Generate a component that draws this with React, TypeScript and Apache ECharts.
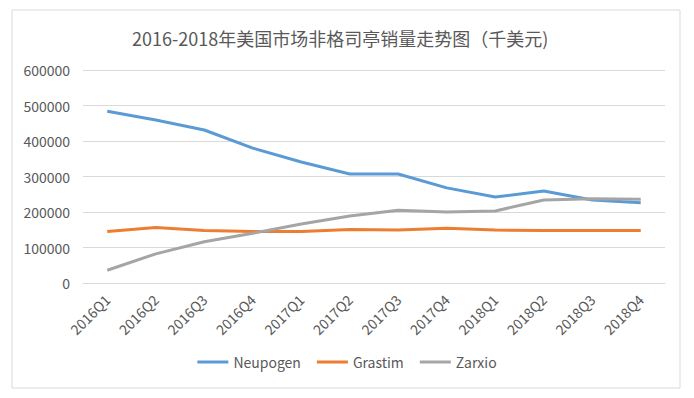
import React, { useEffect, useRef } from "react";
import * as echarts from "echarts";

const categories = ["2016Q1","2016Q2","2016Q3","2016Q4","2017Q1","2017Q2","2017Q3","2017Q4","2018Q1","2018Q2","2018Q3","2018Q4"];
const neupogen = [484000, 459000, 431000, 380000, 341000, 307000, 307000, 268000, 242000, 259000, 234000, 226000];
const grastim = [145000, 156000, 148000, 145000, 145000, 151000, 149000, 154000, 149000, 148000, 148000, 148000];
const zarxio = [36000, 82000, 116000, 140000, 166000, 189000, 205000, 200000, 203000, 234000, 237000, 236000];
const yTicks = [0, 100000, 200000, 300000, 400000, 500000, 600000];

export default function App() {
  const ref = useRef<HTMLDivElement>(null);
  useEffect(() => {
    document.body.style.margin = "0";
    const chart = echarts.init(ref.current!, null, { renderer: "svg" });
    const font = "'Noto Sans CJK SC', 'Noto Sans', sans-serif";
    chart.setOption({
      animation: false,
      backgroundColor: "#ffffff",
      title: {
        text: "2016-2018年美国市场非格司亭销量走势图（千美元)",
        left: 127,
        top: 24,
        textStyle: { fontSize: 18, fontWeight: "normal", color: "#595959", fontFamily: font },
      },
      graphic: [
        {
          type: "rect",
          shape: { x: 12, y: 10, width: 668, height: 378 },
          style: { fill: "none", stroke: "#d9d9d9", lineWidth: 1 },
          silent: true,
        },
      ],
      legend: {
        bottom: 24,
        left: "center",
        icon: "rect",
        itemWidth: 31,
        itemHeight: 3,
        itemGap: 16,
        textStyle: { fontSize: 14, color: "#595959", fontFamily: font },
        data: ["Neupogen", "Grastim", "Zarxio"],
      },
      grid: { left: 83, right: 29, top: 70, bottom: 115 },
      xAxis: {
        type: "category",
        data: categories,
        axisLine: { lineStyle: { color: "#d9d9d9" } },
        axisTick: { show: false },
        axisLabel: { rotate: 45, margin: 14, fontSize: 14, color: "#595959", fontFamily: font },
      },
      yAxis: {
        type: "value",
        min: yTicks[0],
        max: yTicks[yTicks.length - 1],
        interval: 100000,
        axisLine: { show: false },
        axisTick: { show: false },
        splitLine: { lineStyle: { color: "#d9d9d9" } },
        axisLabel: { margin: 13, fontSize: 14, color: "#595959", fontFamily: font, formatter: (v: number) => String(v) },
      },
      series: [
        { name: "Neupogen", type: "line", data: neupogen, showSymbol: false, symbol: "none", lineStyle: { width: 3, color: "#5B9BD5" }, itemStyle: { color: "#5B9BD5" } },
        { name: "Grastim", type: "line", data: grastim, showSymbol: false, symbol: "none", lineStyle: { width: 3, color: "#ED7D31" }, itemStyle: { color: "#ED7D31" } },
        { name: "Zarxio", type: "line", data: zarxio, showSymbol: false, symbol: "none", lineStyle: { width: 3, color: "#A5A5A5" }, itemStyle: { color: "#A5A5A5" } },
      ],
    });
    return () => chart.dispose();
  }, []);
  return <div ref={ref} style={{ width: 694, height: 398 }} />;
}
